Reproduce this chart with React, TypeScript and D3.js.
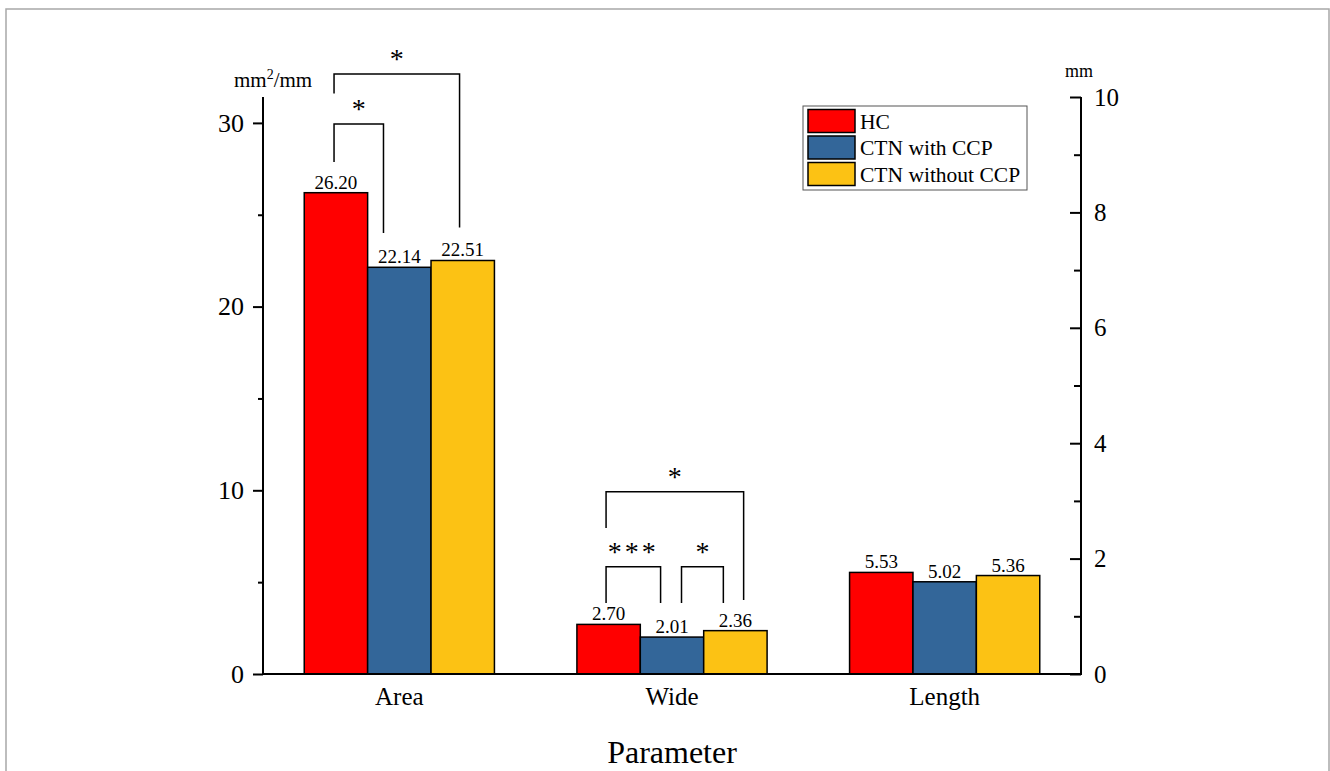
import React from 'react';
import * as d3 from 'd3';

const categories = ['Area', 'Wide', 'Length'];
const seriesNames = ['HC', 'CTN with CCP', 'CTN without CCP'];
const hcValues = [26.2, 2.7, 5.53];
const withCcpValues = [22.14, 2.01, 5.02];
const withoutCcpValues = [22.51, 2.36, 5.36];
const seriesColors = ['#FF0000', '#336699', '#FCC214'];

const leftTicks = [0, 10, 20, 30];
const leftMinorTicks = [5, 15, 25];
const rightTicks = [0, 2, 4, 6, 8, 10];
const rightMinorTicks = [1, 3, 5, 7, 9];

// significance brackets: positions in bar units inside a group, heights in left-axis units
const brackets = [
  { cat: 'Area', from: 0.47, to: 1.25, top: 29.94, leftEnd: 27.87, rightEnd: 24.0, label: '*' },
  { cat: 'Area', from: 0.47, to: 2.45, top: 32.66, leftEnd: 31.6, rightEnd: 24.3, label: '*' },
  { cat: 'Wide', from: 0.46, to: 1.32, top: 5.84, leftEnd: 3.86, rightEnd: 3.86, label: '***' },
  { cat: 'Wide', from: 1.65, to: 2.31, top: 5.84, leftEnd: 3.86, rightEnd: 3.86, label: '*' },
  { cat: 'Wide', from: 0.46, to: 2.63, top: 9.92, leftEnd: 7.95, rightEnd: 4.03, label: '*' },
];

const FONT = '"Liberation Serif", "Times New Roman", serif';

export default function App() {
  const ref = React.useRef<SVGSVGElement>(null);

  React.useEffect(() => {
    const svg = d3.select(ref.current);
    svg.selectAll('*').remove();

    const left = 263;
    const right = 1081;
    const top = 97;
    const bottom = 674;

    const x = d3.scaleBand().domain(categories).range([left, right]).padding(0);
    const bw = x.bandwidth();
    const barW = bw * 0.2325;
    const off = (bw - 3 * barW) / 2;
    const sub = d3.scaleLinear().domain([0, 3]).range([off, off + 3 * barW]);

    const yL = d3.scaleLinear().domain([0, 31.41]).range([bottom, top]);
    const yR = d3.scaleLinear().domain([0, 10]).range([bottom, top]);

    const series = [hcValues, withCcpValues, withoutCcpValues];

    // frame
    svg.append('path')
      .attr('d', `M6,780V9H1329V780`)
      .attr('fill', 'none')
      .attr('stroke', '#a8a8a8')
      .attr('stroke-width', 1.5);

    // bars
    const g = svg.append('g');
    series.forEach((vals, si) => {
      g.selectAll(`.bar${si}`)
        .data(vals)
        .join('rect')
        .attr('x', (_d, i) => (x(categories[i]) as number) + sub(si))
        .attr('width', sub(1) - sub(0))
        .attr('y', (d) => yL(d))
        .attr('height', (d) => yL(0) - yL(d))
        .attr('fill', seriesColors[si])
        .attr('stroke', '#000')
        .attr('stroke-width', 1.5);

      g.selectAll(`.lab${si}`)
        .data(vals)
        .join('text')
        .attr('x', (_d, i) => (x(categories[i]) as number) + sub(si + 0.5))
        .attr('y', (d) => yL(d) - 4)
        .attr('text-anchor', 'middle')
        .attr('font-family', FONT)
        .attr('font-size', 19)
        .text((d) => d.toFixed(2));
    });

    // brackets
    brackets.forEach((b) => {
      const x0 = (x(b.cat) as number) + sub(b.from);
      const x1 = (x(b.cat) as number) + sub(b.to);
      svg.append('path')
        .attr('d', `M${x0},${yL(b.leftEnd)}V${yL(b.top)}H${x1}V${yL(b.rightEnd)}`)
        .attr('fill', 'none')
        .attr('stroke', '#000')
        .attr('stroke-width', 1.5);
      svg.append('text')
        .attr('x', (x0 + x1) / 2)
        .attr('y', yL(b.top) - 6)
        .attr('text-anchor', 'middle')
        .attr('font-family', FONT)
        .attr('font-size', 28)
        .attr('letter-spacing', b.label.length > 1 ? 3 : 0)
        .text(b.label);
    });

    // left axis
    const gl = svg.append('g').attr('transform', `translate(${left},0)`);
    gl.call(d3.axisLeft(yL).tickValues(leftTicks).tickSize(10).tickPadding(9).tickFormat(d3.format('d')));
    gl.call((s) => s.select('.domain').remove());
    gl.append('g').call(d3.axisLeft(yL).tickValues(leftMinorTicks).tickSize(5).tickFormat(() => ''))
      .call((s) => s.select('.domain').remove());
    gl.selectAll('text').attr('font-family', FONT).attr('font-size', 26).attr('fill', '#000');
    gl.selectAll('line').attr('stroke', '#000').attr('stroke-width', 2);

    // right axis, ticks pointing inward
    const gr = svg.append('g').attr('transform', `translate(${right},0)`);
    gr.call(d3.axisRight(yR).tickValues(rightTicks).tickSize(-11).tickPadding(13).tickFormat(d3.format('d')));
    gr.call((s) => s.select('.domain').remove());
    gr.append('g').call(d3.axisRight(yR).tickValues(rightMinorTicks).tickSize(-7).tickFormat(() => ''))
      .call((s) => s.select('.domain').remove());
    gr.selectAll('text').attr('font-family', FONT).attr('font-size', 25).attr('fill', '#000');
    gr.selectAll('line').attr('stroke', '#000').attr('stroke-width', 2);

    // bottom axis
    const gb = svg.append('g').attr('transform', `translate(0,${bottom})`);
    gb.call(d3.axisBottom(x).tickSize(0).tickPadding(13));
    gb.call((s) => s.select('.domain').remove());
    gb.selectAll('text').attr('font-family', FONT).attr('font-size', 25).attr('fill', '#000');

    // axis lines
    svg.append('path')
      .attr('d', `M${left},${top}V${bottom}H${right}V${top}`)
      .attr('fill', 'none')
      .attr('stroke', '#000')
      .attr('stroke-width', 2);

    // titles
    const unitL = svg.append('text')
      .attr('x', 234)
      .attr('y', 87)
      .attr('font-family', FONT)
      .attr('font-size', 21);
    unitL.append('tspan').text('mm');
    unitL.append('tspan').attr('font-size', 14).attr('dy', -8).text('2');
    unitL.append('tspan').attr('dy', 8).text('/mm');

    svg.append('text')
      .attr('x', 1065)
      .attr('y', 77)
      .attr('font-family', FONT)
      .attr('font-size', 18)
      .text('mm');

    svg.append('text')
      .attr('x', (left + right) / 2)
      .attr('y', 763)
      .attr('text-anchor', 'middle')
      .attr('font-family', FONT)
      .attr('font-size', 32)
      .text('Parameter');

    // legend
    const lg = svg.append('g').attr('transform', 'translate(803,106)');
    lg.append('rect')
      .attr('width', 224)
      .attr('height', 84)
      .attr('fill', '#fff')
      .attr('stroke', '#555')
      .attr('stroke-width', 1);
    seriesNames.forEach((name, i) => {
      lg.append('rect')
        .attr('x', 5)
        .attr('y', 3.5 + i * 26.5)
        .attr('width', 47)
        .attr('height', 23)
        .attr('fill', seriesColors[i])
        .attr('stroke', '#000')
        .attr('stroke-width', 1.5);
      lg.append('text')
        .attr('x', 57)
        .attr('y', 22.5 + i * 26.5)
        .attr('font-family', FONT)
        .attr('font-size', 21.5)
        .text(name);
    });
  }, []);

  return (
    <svg
      ref={ref}
      width={1330}
      height={771}
      style={{ position: 'absolute', left: 0, top: 0, background: '#fff' }}
    />
  );
}
